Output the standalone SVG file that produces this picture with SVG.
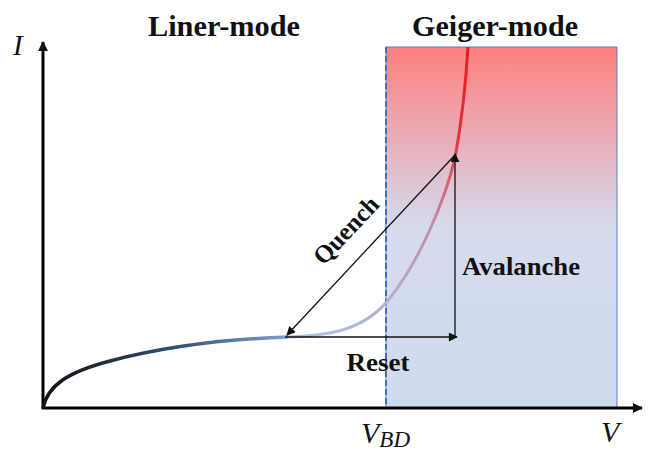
<svg xmlns="http://www.w3.org/2000/svg" width="650" height="463" viewBox="0 0 650 463">
<style>
.t{font-family:"Liberation Serif","Times New Roman",serif;font-weight:bold;fill:#111}
.it{font-family:"Liberation Serif","Times New Roman",serif;font-style:italic;fill:#111}
.ar{stroke:#111;stroke-width:1.3;fill:none}
</style>
<defs>
<linearGradient id="gg" x1="0" y1="0" x2="0" y2="1">
<stop offset="0" stop-color="#FF7F7F"/>
<stop offset="0.5" stop-color="#D4DBED"/>
<stop offset="1" stop-color="#D0DBEE"/>
</linearGradient>
<linearGradient id="c1" x1="43" y1="0" x2="290" y2="0" gradientUnits="userSpaceOnUse">
<stop offset="0" stop-color="#111"/>
<stop offset="0.5" stop-color="#2F4A6E"/>
<stop offset="1" stop-color="#7FA0D0"/>
</linearGradient>
<linearGradient id="c2" x1="0" y1="340" x2="0" y2="47" gradientUnits="userSpaceOnUse">
<stop offset="0" stop-color="#A9C0E6"/>
<stop offset="0.4" stop-color="#C98AA5"/>
<stop offset="0.7" stop-color="#E0303A"/>
<stop offset="1" stop-color="#EE1A1A"/>
</linearGradient>
<marker id="ah" viewBox="0 0 10 10" refX="9" refY="5" markerWidth="10" markerHeight="9" markerUnits="userSpaceOnUse" orient="auto">
<path d="M0,0 L10,5 L0,10 z" fill="#111"/>
</marker>
<marker id="ah2" viewBox="0 0 10 10" refX="9" refY="5" markerWidth="12" markerHeight="10" markerUnits="userSpaceOnUse" orient="auto">
<path d="M0,0 L10,5 L0,10 z" fill="#111"/>
</marker>
</defs>
<rect width="650" height="463" fill="#fff"/>
<g id="geiger-region">
<rect x="386" y="47" width="231" height="361" fill="url(#gg)" stroke="#5A7FC8" stroke-width="1"/>
</g>
<g id="vbd-line">
<line x1="386" y1="47" x2="386" y2="408" stroke="#3F6FC0" stroke-width="2" stroke-dasharray="6,3"/>
</g>
<g id="axes">
<line x1="43" y1="409" x2="43" y2="42" stroke="#000" stroke-width="3" marker-end="url(#ah2)"/>
<line x1="42" y1="408" x2="642" y2="408" stroke="#000" stroke-width="3" marker-end="url(#ah2)"/>
</g>
<g id="curve">
<path d="M43,408 C48,385 68,372 110,361 C170,345 230,339 288,337" stroke="url(#c1)" stroke-width="3.5" fill="none"/>
<path d="M285,337 C330,336 365,330 390,298 C420,260 445,200 455,158 C462,120 466,80 468,47" stroke="url(#c2)" stroke-width="3" fill="none"/>
</g>
<g id="connectors">
<line class="ar" x1="455" y1="155" x2="287" y2="335" marker-end="url(#ah)"/>
<line class="ar" x1="455" y1="337" x2="455" y2="154" marker-end="url(#ah)"/>
<line class="ar" x1="285" y1="337" x2="457" y2="337" marker-end="url(#ah)"/>
</g>
<g id="labels">
<text class="t" x="224" y="36" font-size="30" text-anchor="middle" textLength="152" lengthAdjust="spacingAndGlyphs">Liner-mode</text>
<text class="t" x="495" y="36" font-size="30" text-anchor="middle" textLength="166" lengthAdjust="spacingAndGlyphs">Geiger-mode</text>
<text class="it" x="13" y="55" font-size="29">I</text>
<text class="t" x="0" y="0" font-size="25" text-anchor="middle" transform="translate(352,236) rotate(-46.7)">Quench</text>
<text class="t" x="462" y="275" font-size="25" textLength="118" lengthAdjust="spacingAndGlyphs">Avalanche</text>
<text class="t" x="378" y="371" font-size="25" text-anchor="middle" textLength="63" lengthAdjust="spacingAndGlyphs">Reset</text>
<text class="it" x="361" y="443" font-size="30">V<tspan font-size="23" dy="4">BD</tspan></text>
<text class="it" x="601" y="442" font-size="30">V</text>
</g>
</svg>
